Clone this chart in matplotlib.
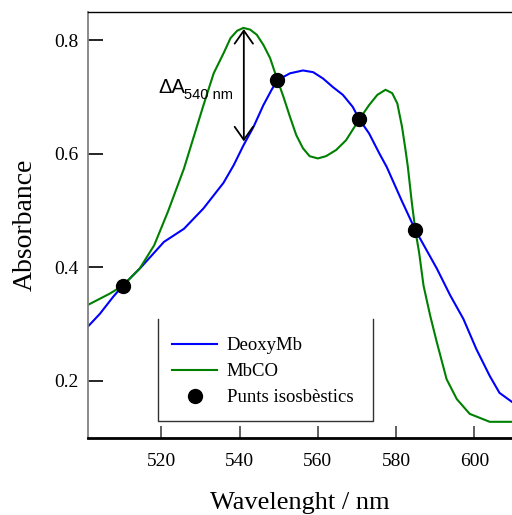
import numpy as np
import matplotlib
matplotlib.use('Agg')
import matplotlib.pyplot as plt
from matplotlib.lines import Line2D

# absorption spectra
deoxy_wl = [501.3, 504.3, 507.7, 510.2, 514.8, 520.7, 525.8, 530.8, 535.9, 538.5,
            541.0, 543.6, 546.1, 548.2, 549.7, 552.9, 556.2, 558.8, 561.3, 563.8,
            566.4, 568.9, 570.6, 573.1, 575.7, 577.6, 581.4, 584.9, 590.4, 593.8,
            597.2, 600.5, 603.9, 606.4, 609.6]
deoxy_abs = [0.296, 0.318, 0.348, 0.368, 0.400, 0.445, 0.468, 0.504, 0.549, 0.580,
             0.615, 0.648, 0.686, 0.713, 0.730, 0.742, 0.747, 0.744, 0.733, 0.718,
             0.704, 0.683, 0.661, 0.636, 0.601, 0.577, 0.518, 0.466, 0.398, 0.351,
             0.309, 0.256, 0.209, 0.179, 0.163]

mbco_wl = [501.3, 506.9, 510.2, 514.5, 518.2, 521.7, 525.8, 528.3, 530.8, 533.4,
           535.9, 537.7, 539.4, 541.0, 542.7, 544.4, 546.1, 547.8, 549.7, 551.2,
           552.9, 554.5, 556.2, 557.9, 560.0, 562.1, 564.7, 567.2, 570.6, 573.1,
           575.2, 577.3, 579.0, 580.3, 581.5, 582.4, 583.0, 584.0, 584.9, 585.9,
           587.0, 588.7, 590.4, 592.9, 595.5, 598.8, 603.9, 609.6]
mbco_abs = [0.334, 0.354, 0.368, 0.398, 0.439, 0.498, 0.574, 0.630, 0.686, 0.742,
            0.777, 0.804, 0.817, 0.822, 0.819, 0.810, 0.792, 0.769, 0.730, 0.701,
            0.665, 0.633, 0.610, 0.596, 0.592, 0.596, 0.607, 0.624, 0.661, 0.686,
            0.704, 0.713, 0.707, 0.689, 0.648, 0.607, 0.577, 0.515, 0.466, 0.425,
            0.368, 0.315, 0.268, 0.203, 0.168, 0.142, 0.128, 0.128]

iso_wl = [510.2, 549.7, 570.6, 584.9]
iso_abs = [0.368, 0.730, 0.661, 0.466]

delta_wl = 541.1
delta_top = 0.820
delta_bottom = 0.622

serif = 'Liberation Serif'
sans = 'Liberation Sans'

fig = plt.figure(figsize=(5.12, 5.15), dpi=100)
ax = fig.add_axes([0.1719, 0.1501, 0.8281, 0.8266])

ax.plot(deoxy_wl, deoxy_abs, color='#0000FF', lw=1.5, label='DeoxyMb')
ax.plot(mbco_wl, mbco_abs, color='#008000', lw=1.5, label='MbCO')
ax.plot(iso_wl, iso_abs, 'o', color='black', markersize=10, label='Punts isosbèstics')

ax.annotate('', xy=(delta_wl, delta_bottom), xytext=(delta_wl, delta_top),
            arrowprops=dict(arrowstyle='<->,head_length=0.47,head_width=0.33',
                            mutation_scale=20, color='black', lw=1.3,
                            shrinkA=0, shrinkB=0))
ax.text(519.2, 0.708, 'ΔA', family=sans, fontsize=14.5, va='baseline')
ax.text(525.8, 0.696, '540 nm', family=sans, fontsize=10.5, va='baseline')

ax.set_xlim(501.3, 609.6)
ax.set_ylim(0.1, 0.85)
ax.set_xticks([520, 540, 560, 580, 600])
ax.set_yticks([0.2, 0.4, 0.6, 0.8])
ax.set_yticklabels(['0.2', '0.4', '0.6', '0.8'])

ax.tick_params(axis='y', direction='in', length=11, width=1.2, color='black', pad=7)
ax.tick_params(axis='x', direction='in', length=9, width=1.2, color='#444444', pad=11)
for lab in ax.get_xticklabels() + ax.get_yticklabels():
    lab.set_family(serif)
    lab.set_fontsize(14)

ax.spines['right'].set_visible(False)
ax.spines['left'].set_color('#808080')
ax.spines['left'].set_linewidth(1.3)
ax.spines['bottom'].set_linewidth(2.0)
ax.spines['top'].set_linewidth(1.0)

ax.set_xlabel('Wavelenght / nm', family=serif, fontsize=19, labelpad=16)
ax.set_ylabel('Absorbance', family=serif, fontsize=20, labelpad=12)

leg = ax.legend(loc='upper left', bbox_to_anchor=(0.197, 0.236), frameon=False,
                prop={'family': serif, 'size': 13.5}, handlelength=2.45,
                handletextpad=0.5, labelspacing=0.47, borderaxespad=0,
                borderpad=0)
# legend frame drawn without its top edge
box_x = [0.1644, 0.1644, 0.6729, 0.6729]
box_y = [0.2788, 0.0399, 0.0399, 0.2788]
ax.add_line(Line2D(box_x, box_y, transform=ax.transAxes, color='#333333', lw=1.0))

plt.savefig('out.png', dpi=100)
